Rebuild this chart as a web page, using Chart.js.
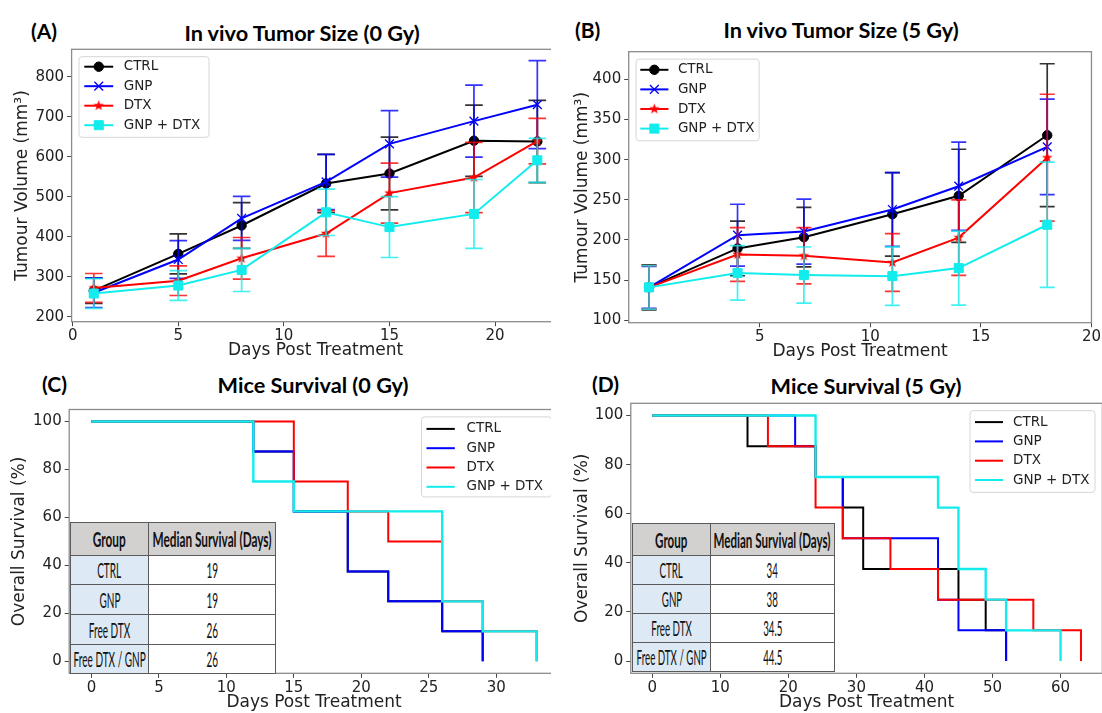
<!DOCTYPE html>
<html>
<head>
<meta charset="utf-8">
<script src="https://cdn.jsdelivr.net/npm/chart.js@4.4.1/dist/chart.umd.min.js"></script>
<style>
  body { margin: 0; width: 1102px; height: 713px; overflow: hidden; background: #fff; position: relative; font-family: 'DejaVu Sans', sans-serif; }
  .panel { position: absolute; overflow: hidden; }
  .panel canvas { position: absolute; left: 0; top: 0; }
  .ttl { position: absolute; font-family: Lato, 'Open Sans', sans-serif; font-weight: bold; font-size: 21.7px; white-space: nowrap; transform: translate(-50%, -50%); color: #000; }
  .lbl { position: absolute; font-family: Lato, 'Open Sans', sans-serif; font-weight: bold; font-size: 21px; transform: translateY(-50%); color: #000; }
  table.med { position: absolute; border-collapse: collapse; table-layout: fixed; font-family: Lato, sans-serif; font-size: 21px; color: #111; background: #fff; }
  table.med td, table.med th { border: 1.5px solid #5a5a5a; padding: 0; }
  table.med th { background: #d3d0d0; font-weight: bold; }
  table.med td.g { background: #dde9f5; }
  table.med div { display: flex; justify-content: center; align-items: center; white-space: nowrap; }
  table.med span { display: inline-block; transform-origin: 50% 50%; }
</style>
</head>
<body>

<div class="lbl" style="left:31px;top:30px">(A)</div>
<div class="ttl" style="left:302px;top:33px">In vivo Tumor Size (0 Gy)</div>
<div class="lbl" style="left:575px;top:29px">(B)</div>
<div class="ttl" style="left:841px;top:30px">In vivo Tumor Size (5 Gy)</div>
<div class="lbl" style="left:42px;top:383px">(C)</div>
<div class="ttl" style="left:313px;top:385px">Mice Survival (0 Gy)</div>
<div class="lbl" style="left:592px;top:383px">(D)</div>
<div class="ttl" style="left:866px;top:386px">Mice Survival (5 Gy)</div>

<div class="panel" style="left:0;top:0;width:551px;height:365px"><canvas id="cA" width="570" height="365"></canvas></div>
<div class="panel" style="left:551px;top:0;width:551px;height:365px"><canvas id="cB" width="551" height="365"></canvas></div>
<div class="panel" style="left:0;top:355px;width:551px;height:358px"><canvas id="cC" width="570" height="358"></canvas></div>
<div class="panel" style="left:551px;top:355px;width:551px;height:358px"><canvas id="cD" width="560" height="358"></canvas></div>

<table class="med" id="tC" style="left:70px;top:522px;width:206px"></table>
<table class="med" id="tD" style="left:632px;top:523px;width:203px"></table>

<script>
// ---- (A) tumour volume, 0 Gy ----
const daysA = [1, 5, 8, 12, 15, 19, 22];
const ctrlA = [265, 357, 428, 533, 558, 640, 638];
const gnpA = [260, 343, 446, 537, 632, 689, 730];
const dtxA = [272, 290, 346, 408, 509, 548, 639];
const comboA = [258, 278, 317, 461, 424, 457, 591];
const ctrlErrA = [32, 50, 57, 73, 91, 89, 103];
const gnpErrA = [37, 47, 55, 69, 83, 90, 110];
const dtxErrA = [36, 37, 52, 57, 75, 88, 57];
const comboErrA = [37, 37, 54, 58, 76, 86, 55];

// ---- (B) tumour volume, 5 Gy ----
const daysB = [0, 4, 7, 11, 14, 18];
const ctrlB = [141, 189.5, 203.5, 232, 255, 330.5];
const gnpB = [141, 206, 210.5, 238, 267, 316];
const dtxB = [141, 182, 180.3, 172, 203, 302.5];
const comboB = [141, 159, 156.3, 155, 165, 219];
const ctrlErrB = [28, 34, 37, 52, 58, 89];
const gnpErrB = [26, 38.5, 40.5, 46, 55, 59.5];
const dtxErrB = [27, 33.5, 35, 36, 47, 79];
const comboErrB = [27, 34, 35, 36.5, 46, 78];

// ---- (C) survival, 0 Gy (step times / survival %) ----
const ctrlTimeC = [0, 12, 15, 19, 22, 26, 29];
const ctrlSurvC = [100, 87.5, 62.5, 37.5, 25, 12.5, 0];
const gnpTimeC = [0, 12, 15, 19, 22, 26, 29];
const gnpSurvC = [100, 87.5, 62.5, 37.5, 25, 12.5, 0];
const dtxTimeC = [0, 15, 19, 22, 26, 29, 33];
const dtxSurvC = [100, 75, 62.5, 50, 25, 12.5, 0];
const comboTimeC = [0, 12, 15, 26, 29, 33];
const comboSurvC = [100, 75, 62.5, 25, 12.5, 0];

// ---- (D) survival, 5 Gy ----
const ctrlTimeD = [0, 14, 24, 28, 31, 45, 49, 52];
const ctrlSurvD = [100, 87.5, 75, 62.5, 37.5, 25, 12.5, 0];
const gnpTimeD = [0, 21, 24, 28, 42, 45, 52];
const gnpSurvD = [100, 87.5, 75, 50, 25, 12.5, 0];
const dtxTimeD = [0, 17, 24, 28, 35, 42, 56, 63];
const dtxSurvD = [100, 87.5, 62.5, 50, 37.5, 25, 12.5, 0];
const comboTimeD = [0, 24, 42, 45, 49, 52, 60];
const comboSurvD = [100, 75, 62.5, 37.5, 25, 12.5, 0];

// ---- ticks, names, tables ----
const xTicksA = [0, 5, 10, 15, 20];
const yTicksA = [200, 300, 400, 500, 600, 700, 800];
const xTicksB = [5, 10, 15, 20];
const yTicksB = [100, 150, 200, 250, 300, 350, 400];
const xTicksC = [0, 5, 10, 15, 20, 25, 30];
const xTicksD = [0, 10, 20, 30, 40, 50, 60];
const yTicksSurv = [0, 20, 40, 60, 80, 100];
const seriesNames = ['CTRL', 'GNP', 'DTX', 'GNP + DTX'];
const seriesColors = ['#000000', '#0000ff', '#ff0000', '#12ecec'];
const tableGroups = ['CTRL', 'GNP', 'Free DTX', 'Free DTX / GNP'];
const medianC = ['19', '19', '26', '26'];
const medianD = ['34', '38', '34.5', '44.5'];

Chart.defaults.font.family = "'DejaVu Sans', sans-serif";
Chart.defaults.color = '#222';

// filled 5-point star like matplotlib '*'
function starMarker(color, r) {
  const c = document.createElement('canvas');
  const s = Math.ceil(r * 2 + 2);
  c.width = s; c.height = s;
  const g = c.getContext('2d');
  g.fillStyle = color;
  g.beginPath();
  for (let i = 0; i < 10; i++) {
    const rr = i % 2 ? r * 0.42 : r;
    const ang = -Math.PI / 2 + i * Math.PI / 5;
    g.lineTo(s / 2 + rr * Math.cos(ang), s / 2 + rr * Math.sin(ang));
  }
  g.closePath();
  g.fill();
  return c;
}

const markerStyles = [
  { pointStyle: 'circle', pointRadius: 4.7, pointBorderWidth: 1 },
  { pointStyle: 'crossRot', pointRadius: 6.2, pointBorderWidth: 1.3 },
  { pointStyle: starMarker('#ff0000', 5.5), pointRadius: 5.5, pointBorderWidth: 1 },
  { pointStyle: 'rect', pointRadius: 6.4, pointBorderWidth: 1 }
];

function pts(xs, ys) {
  return xs.map((x, i) => ({ x: x, y: ys[i] }));
}

function tumourSets(days, series) {
  return series.map((ys, i) => Object.assign({
    label: seriesNames[i],
    data: pts(days, ys),
    borderColor: seriesColors[i],
    backgroundColor: seriesColors[i],
    pointBackgroundColor: seriesColors[i],
    pointBorderColor: seriesColors[i],
    borderWidth: 2,
    order: 3 - i
  }, markerStyles[i]));
}

function survSets(times, survs) {
  return survs.map((ys, i) => ({
    label: seriesNames[i],
    data: pts(times[i], ys),
    borderColor: seriesColors[i],
    backgroundColor: seriesColors[i],
    borderWidth: i === 3 ? 2.4 : 2,
    pointRadius: 0,
    stepped: 'before',
    order: 3 - i
  }));
}

// error bars drawn under each series, in series order
const errorBars = {
  id: 'errorBars',
  beforeDatasetDraw(chart, args, o) {
    if (!o.errors) return;
    const e = o.errors[args.index];
    const ds = chart.data.datasets[args.index];
    const xs = chart.scales.x, ys = chart.scales.y, ctx = chart.ctx;
    ctx.save();
    ctx.strokeStyle = ds.borderColor;
    ctx.globalAlpha = 0.8;
    ctx.lineWidth = 1.7;
    ds.data.forEach((p, i) => {
      const x = xs.getPixelForValue(p.x);
      const y1 = ys.getPixelForValue(p.y - e[i]);
      const y2 = ys.getPixelForValue(p.y + e[i]);
      ctx.beginPath();
      ctx.moveTo(x, y1); ctx.lineTo(x, y2);
      ctx.moveTo(x - o.cap, y1); ctx.lineTo(x + o.cap, y1);
      ctx.moveTo(x - o.cap, y2); ctx.lineTo(x + o.cap, y2);
      ctx.stroke();
    });
    ctx.restore();
  }
};

const frame = {
  id: 'frame',
  afterDatasetsDraw(chart) {
    const a = chart.chartArea, ctx = chart.ctx;
    ctx.save();
    ctx.strokeStyle = '#8c8c8c';
    ctx.lineWidth = 1.3;
    ctx.strokeRect(a.left, a.top, a.right - a.left, a.bottom - a.top);
    ctx.restore();
  }
};

// matplotlib-like legend box inside the axes
const boxLegend = {
  id: 'boxLegend',
  afterDraw(chart, args, o) {
    const a = chart.chartArea, ctx = chart.ctx;
    const left = o.right ? a.right - o.pad - o.w : a.left + o.pad;
    const top = a.top + o.pad;
    ctx.save();
    ctx.fillStyle = 'rgba(255,255,255,0.85)';
    ctx.strokeStyle = '#d6d6d6';
    ctx.lineWidth = 1;
    ctx.beginPath();
    ctx.roundRect(left, top, o.w, o.h, 3);
    ctx.fill();
    ctx.stroke();
    chart.data.datasets.forEach((ds, i) => {
      const y = top + o.row0 + i * o.gap;
      ctx.strokeStyle = ds.borderColor;
      ctx.lineWidth = 2;
      ctx.beginPath();
      ctx.moveTo(left + o.x1, y);
      ctx.lineTo(left + o.x2, y);
      ctx.stroke();
      if (o.markers) {
        ctx.fillStyle = ds.borderColor;
        ctx.lineWidth = ds.pointBorderWidth;
        Chart.helpers.drawPoint(ctx, { pointStyle: ds.pointStyle, radius: ds.pointRadius, borderWidth: ds.pointBorderWidth, rotation: 0 }, (2 * left + o.x1 + o.x2) / 2, y);
      }
      ctx.fillStyle = '#222';
      ctx.font = "13.5px 'DejaVu Sans'";
      ctx.textBaseline = 'middle';
      ctx.fillText(ds.label, left + o.tx, y);
    });
    ctx.restore();
  }
};

function makeChart(id, o) {
  const canvas = document.getElementById(id);
  const W = canvas.width, H = canvas.height;
  return new Chart(canvas, {
    type: 'line',
    data: { datasets: o.datasets },
    options: {
      responsive: false,
      animation: false,
      events: [],
      layout: { padding: { top: o.area.top, right: W - o.area.right, left: 0, bottom: 0 } },
      plugins: {
        legend: { display: false },
        tooltip: { enabled: false },
        errorBars: { errors: o.errors, cap: o.cap },
        boxLegend: o.legend
      },
      scales: {
        x: {
          type: 'linear', min: o.xMin, max: o.xMax,
          afterBuildTicks: s => { s.ticks = o.xTicks.map(v => ({ value: v })); },
          afterFit: s => { s.height = H - o.area.bottom; },
          grid: { drawOnChartArea: false, drawTicks: true, tickLength: 4.5, color: '#444', lineWidth: 1 },
          border: { display: false },
          ticks: { font: { size: 15 }, color: '#222', padding: 1, maxRotation: 0, autoSkip: false },
          title: { display: true, text: 'Days Post Treatment', font: { size: 17 }, color: '#222', padding: { top: 0, bottom: o.xTitlePad } }
        },
        y: {
          type: 'linear', min: o.yMin, max: o.yMax,
          afterBuildTicks: s => { s.ticks = o.yTicks.map(v => ({ value: v })); },
          afterFit: s => { s.width = o.area.left; },
          grid: { drawOnChartArea: false, drawTicks: true, tickLength: 4.5, color: '#444', lineWidth: 1 },
          border: { display: false },
          ticks: { font: { size: 15 }, color: '#222', padding: 3, autoSkip: false },
          title: { display: true, text: o.yTitle, font: { size: 17 }, color: '#222', padding: { top: o.yTitlePad, bottom: 0 } }
        }
      }
    },
    plugins: [errorBars, frame, boxLegend]
  });
}

makeChart('cA', {
  datasets: tumourSets(daysA, [ctrlA, gnpA, dtxA, comboA]),
  errors: [ctrlErrA, gnpErrA, dtxErrA, comboErrA], cap: 8.8,
  area: { left: 71.6, top: 49.3, right: 559.5, bottom: 321.7 },
  xMin: -0.05, xMax: 23.05, yMin: 187.5, yMax: 868.5,
  xTicks: xTicksA, yTicks: yTicksA,
  yTitle: 'Tumour Volume (mm³)', yTitlePad: 12, xTitlePad: 3.8,
  legend: { right: false, pad: 7.4, w: 130, h: 80.6, row0: 10, gap: 19.5, x1: 5.3, x2: 34.2, tx: 44.7, markers: true }
});

makeChart('cB', {
  datasets: tumourSets(daysB, [ctrlB, gnpB, dtxB, comboB]),
  errors: [ctrlErrB, gnpErrB, dtxErrB, comboErrB], cap: 7.5,
  area: { left: 77.7, top: 51.7, right: 543, bottom: 322.7 },
  xMin: -0.92, xMax: 20, yMin: 97, yMax: 434.5,
  xTicks: xTicksB, yTicks: yTicksB,
  yTitle: 'Tumour Volume (mm³)', yTitlePad: 21, xTitlePad: 3,
  legend: { right: false, pad: 7.4, w: 123, h: 81.7, row0: 10.7, gap: 19.6, x1: 4.2, x2: 32.3, tx: 41.8, markers: true }
});

makeChart('cC', {
  datasets: survSets([ctrlTimeC, gnpTimeC, dtxTimeC, comboTimeC], [ctrlSurvC, gnpSurvC, dtxSurvC, comboSurvC]),
  area: { left: 69.2, top: 54.5, right: 558.9, bottom: 318.3 },
  xMin: -1.65, xMax: 34.65, yMin: -5, yMax: 105,
  xTicks: xTicksC, yTicks: yTicksSurv,
  yTitle: 'Overall Survival (%)', yTitlePad: 9, xTitlePad: 0,
  legend: { right: true, pad: 7.4, w: 130, h: 80, row0: 12, gap: 19.3, x1: 5, x2: 33.3, tx: 45, markers: false }
});

makeChart('cD', {
  datasets: survSets([ctrlTimeD, gnpTimeD, dtxTimeD, comboTimeD], [ctrlSurvD, gnpSurvD, dtxSurvD, comboSurvD]),
  area: { left: 79.8, top: 48.3, right: 551.4, bottom: 318.3 },
  xMin: -3.15, xMax: 66.15, yMin: -5, yMax: 105,
  xTicks: xTicksD, yTicks: yTicksSurv,
  yTitle: 'Overall Survival (%)', yTitlePad: 21, xTitlePad: 0,
  legend: { right: true, pad: 7.4, w: 125, h: 81.7, row0: 11.4, gap: 19.3, x1: 5, x2: 33, tx: 43, markers: false }
});

// median-survival tables; the condensed look is made by squeezing the text to the widths seen in the figure
function fillTable(id, medians, colW, headH, rowH, headTextW, bodyTextW) {
  const t = document.getElementById(id);
  let html = `<colgroup><col style="width:${colW[0]}px"><col style="width:${colW[1]}px"></colgroup>`;
  html += `<tr style="height:${headH}px"><th><div><span>Group</span></div></th><th><div><span class="wide">Median Survival (Days)</span></div></th></tr>`;
  tableGroups.forEach((g, i) => {
    html += `<tr style="height:${rowH}px"><td class="g"><div><span${i === 3 ? ' class="wide"' : ''}>${g}</span></div></td><td><div><span>${medians[i]}</span></div></td></tr>`;
  });
  t.innerHTML = html;
  const hs = headTextW / t.querySelector('th span.wide').offsetWidth;
  const bs = bodyTextW / t.querySelector('td span.wide').offsetWidth;
  t.querySelectorAll('th span').forEach(s => { s.style.transform = `scaleX(${hs})`; });
  t.querySelectorAll('td span').forEach(s => { s.style.transform = `scaleX(${bs})`; });
}
fillTable('tC', medianC, [78, 127], 32.5, 29.7, 119, 72);
fillTable('tD', medianD, [78, 124], 31.7, 29, 117, 70);
</script>
</body>
</html>
